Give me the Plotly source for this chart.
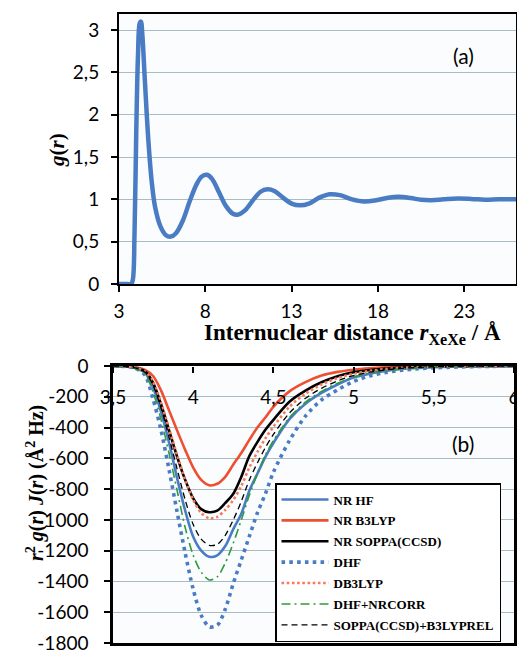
import plotly.graph_objects as go

# ---------- panel (a): radial distribution function ----------
r_a = [3.0, 3.5, 3.7, 3.8, 3.9, 4.0, 4.1, 4.2, 4.27, 4.35, 4.5, 4.7, 4.9, 5.1, 5.4, 5.7,
       6.0, 6.3, 6.7, 7.1, 7.5, 7.8, 8.1, 8.4, 8.8, 9.2, 9.6, 9.9, 10.3, 10.8, 11.2,
       11.6, 12.0, 12.5, 13.0, 13.5, 14.0, 14.6, 15.2, 15.8, 16.5, 17.2, 17.9, 18.6,
       19.2, 19.9, 20.5, 21.1, 21.8, 22.6, 23.4, 24.2, 25.0, 26.0]
g_a = [0.0, 0.0, 0.0, 0.05, 0.6, 1.8, 2.7, 3.08, 3.1, 2.95, 2.4, 1.7, 1.2, 0.9, 0.68, 0.58,
       0.56, 0.6, 0.75, 0.98, 1.18, 1.27, 1.29, 1.24, 1.08, 0.92, 0.83, 0.82, 0.87, 1.0, 1.09,
       1.12, 1.1, 1.02, 0.95, 0.93, 0.95, 1.02, 1.06, 1.05, 1.0, 0.975, 0.99, 1.02,
       1.03, 1.015, 0.995, 0.99, 1.0, 1.01, 1.005, 0.995, 1.0, 1.0]

xticks_a = [3, 8, 13, 18, 23]
yticks_a = [0, 0.5, 1, 1.5, 2, 2.5, 3]
yticktext_a = ["0", "0,5", "1", "1,5", "2", "2,5", "3"]

# ---------- panel (b): r^2 g(r) J(r) ----------
r_b = [3.5, 3.6, 3.65, 3.7, 3.75, 3.8, 3.85, 3.9, 3.95, 4.0, 4.05, 4.1, 4.15, 4.2, 4.25,
       4.3, 4.35, 4.4, 4.45, 4.5, 4.6, 4.7, 4.8, 4.9, 5.0, 5.1, 5.2, 5.3, 5.4, 5.5, 5.6,
       5.7, 5.8, 5.9, 6.0]

nr_hf = [0, -5, -18, -45, -140, -300, -500, -730, -940, -1110, -1200, -1240, -1230, -1170, -1060,
         -960, -810, -700, -590, -500, -345, -245, -175, -120, -75, -50, -32, -20, -13, -8, -5,
         -3, -2, -1, 0]
nr_b3lyp = [0, -3, -10, -25, -65, -160, -290, -420, -545, -660, -740, -775, -765, -720, -640,
            -565, -480, -400, -335, -265, -165, -105, -62, -38, -24, -15, -9, -5, -3, -2, -1,
            0, 0, 0, 0]
nr_soppa = [0, -4, -14, -35, -110, -250, -420, -590, -740, -860, -930, -950, -940, -890, -830,
            -720, -585, -495, -415, -350, -232, -160, -106, -66, -40, -26, -16, -10, -6, -4, -2,
            -1, 0, 0, 0]
dhf = [0, -5, -20, -60, -215, -420, -676, -950, -1215, -1451, -1620, -1695, -1685, -1580, -1412,
       -1260, -1107, -955, -830, -690, -485, -325, -220, -155, -100, -65, -42, -28, -18, -12, -8,
       -5, -3, -2, -1]
db3lyp = [0, -4, -14, -35, -105, -240, -410, -580, -740, -870, -955, -990, -980, -935, -870,
          -780, -660, -560, -470, -395, -265, -180, -120, -78, -50, -32, -20, -12, -7, -4, -2,
          -1, 0, 0, 0]
dhf_nrcorr = [0, -6, -20, -50, -170, -350, -570, -810, -1050, -1230, -1340, -1390, -1370, -1280, -1150,
              -1000, -840, -700, -580, -485, -335, -235, -165, -112, -72, -47, -30, -19, -12, -7, -4,
              -2, -1, 0, 0]
soppa_b3lyprel = [0, -5, -16, -40, -125, -275, -465, -670, -870, -1030, -1125, -1165, -1160, -1100, -1000,
                  -880, -740, -630, -530, -445, -305, -210, -145, -97, -62, -40, -25, -15, -9, -5, -3,
                  -1, 0, 0, 0]

series_names = ["NR HF", "NR B3LYP", "NR SOPPA(CCSD)", "DHF", "DB3LYP", "DHF+NRCORR",
                "SOPPA(CCSD)+B3LYPREL"]
series_values = [nr_hf, nr_b3lyp, nr_soppa, dhf, db3lyp, dhf_nrcorr, soppa_b3lyprel]

xticks_b = [3.5, 4, 4.5, 5, 5.5, 6]
xticktext_b = ["3,5", "4", "4,5", "5", "5,5", "6"]
yticks_b = [0, -200, -400, -600, -800, -1000, -1200, -1400, -1600, -1800]
yticktext_b = ["0", "-200", "-400", "-600", "-800", "-1000", "-1200", "-1400", "-1600", "-1800"]

# ---------- styles ----------
BLUE = "#4a7cc4"
RED = "#ee4f30"
LRED = "#f47a5c"
GREEN = "#2f9a3c"
styles = [
    dict(color=BLUE, width=2.6, dash="solid"),
    dict(color=RED, width=2.6, dash="solid"),
    dict(color="black", width=2.6, dash="solid"),
    dict(color=BLUE, width=3.6, dash="3.6px,4.2px"),
    dict(color=LRED, width=2.6, dash="2.6px,2.6px"),
    dict(color=GREEN, width=1.6, dash="9px,4px,2px,4px"),
    dict(color="black", width=1.3, dash="6px,4px"),
]

W, H = 517, 650
def px_x(p):
    return p / W
def px_y(p):
    return 1 - p / H

TICKFONT = dict(family="Lato, Liberation Sans, sans-serif", size=19, color="black")
SERIF = "Liberation Serif, DejaVu Serif, serif"
GRID = "#a9bcc4"

fig = go.Figure()

fig.add_trace(go.Scatter(x=r_a, y=g_a, mode="lines", line=dict(color=BLUE, width=4.5, shape="spline"),
                         showlegend=False, xaxis="x", yaxis="y"))

for name, vals, st in zip(series_names, series_values, styles):
    fig.add_trace(go.Scatter(x=r_b, y=vals, mode="lines", name=name, legendgroup=name,
                             line=dict(color=st["color"], width=st["width"], dash=st["dash"],
                                       shape="spline", smoothing=0.8),
                             xaxis="x2", yaxis="y2"))

# invisible carrier trace so the top tick-label axis of panel (b) is drawn
fig.add_trace(go.Scatter(x=r_b, y=nr_hf, mode="lines", line=dict(width=0), opacity=0,
                         showlegend=False, hoverinfo="skip", xaxis="x3", yaxis="y2"))

def ann(text, x, y, size, family, angle=0):
    return dict(text=text, x=px_x(x), y=px_y(y), xref="paper", yref="paper", showarrow=False,
                xanchor="center", yanchor="middle", textangle=angle,
                font=dict(family=family, size=size, color="black"))

XB = [px_x(113), px_x(514)]

fig.update_layout(
    template="none",
    width=W, height=H,
    margin=dict(l=0, r=0, t=0, b=0, autoexpand=False),
    paper_bgcolor="white",
    plot_bgcolor="#fbfcfe",
    separators=", ",
    xaxis=dict(domain=[px_x(119), px_x(516)], range=[3, 26], anchor="y", automargin=False,
               tickvals=xticks_a, ticks="outside", ticklen=6, tickwidth=2, tickcolor="black",
               showline=True, mirror=True, linecolor="black", linewidth=2,
               showgrid=False, zeroline=False, tickfont=TICKFONT, ticklabelstandoff=3),
    yaxis=dict(domain=[px_y(284), px_y(14)], range=[0, 3.19], anchor="x", automargin=False,
               tickvals=yticks_a, ticktext=yticktext_a, ticks="outside", ticklen=6, tickwidth=2,
               tickcolor="black", showline=True, mirror=True, linecolor="black", linewidth=2,
               showgrid=True, gridcolor=GRID, gridwidth=1, zeroline=False, tickfont=TICKFONT,
               ticklabelstandoff=8),
    xaxis2=dict(domain=XB, range=[3.5, 6], anchor="y2", automargin=False,
                showticklabels=False, ticks="",
                showline=True, mirror=True, linecolor="black", linewidth=2.5,
                showgrid=False, zeroline=False),
    xaxis3=dict(domain=XB, range=[3.5, 6], overlaying="x2", anchor="free", position=px_y(366),
                side="bottom", automargin=False,
                tickvals=xticks_b, ticktext=xticktext_b, ticks="outside", ticklen=6, tickwidth=2,
                tickcolor="black", showline=False, showgrid=False, zeroline=False,
                tickfont=TICKFONT, ticklabelstandoff=8, ticklabeloverflow="allow"),
    yaxis2=dict(domain=[px_y(643), px_y(366)], range=[-1800, 0], anchor="x2", automargin=False,
                tickvals=yticks_b, ticktext=yticktext_b, ticks="outside", ticklen=6, tickwidth=2,
                tickcolor="black", showline=True, mirror=True, linecolor="black", linewidth=2.5,
                showgrid=True, gridcolor=GRID, gridwidth=1, zeroline=False, tickfont=TICKFONT,
                ticklabelstandoff=12, ticklabeloverflow="allow"),
    legend=dict(x=px_x(275), y=px_y(483), xanchor="left", yanchor="top",
                bgcolor="white", bordercolor="black", borderwidth=1.5,
                font=dict(family=SERIF, size=13, color="black", weight="bold"),
                tracegroupgap=1.0, itemwidth=47, entrywidth=170, entrywidthmode="pixels"),
    annotations=[
        ann("(a)", 463, 55, 21, "Lato, Liberation Sans, sans-serif"),
        ann("(b)", 463, 443, 21, "Lato, Liberation Sans, sans-serif"),
        ann("<b>Internuclear distance <i>r</i><sub>XeXe</sub> / Å</b>", 352, 334, 23, SERIF),
        ann("<b><i>g</i>(<i>r</i>)</b>", 57, 150, 21, SERIF, -90),
        ann("<b><i>r</i><sup>2</sup> <i>g</i>(<i>r</i>) <i>J</i>(<i>r</i>) (Å<sup>2</sup> Hz)</b>",
            35, 483, 20, SERIF, -90),
    ],
)

fig.write_html("out.html", config={"displayModeBar": False},
               post_script="document.body.style.margin='0';document.body.style.overflow='hidden';")
